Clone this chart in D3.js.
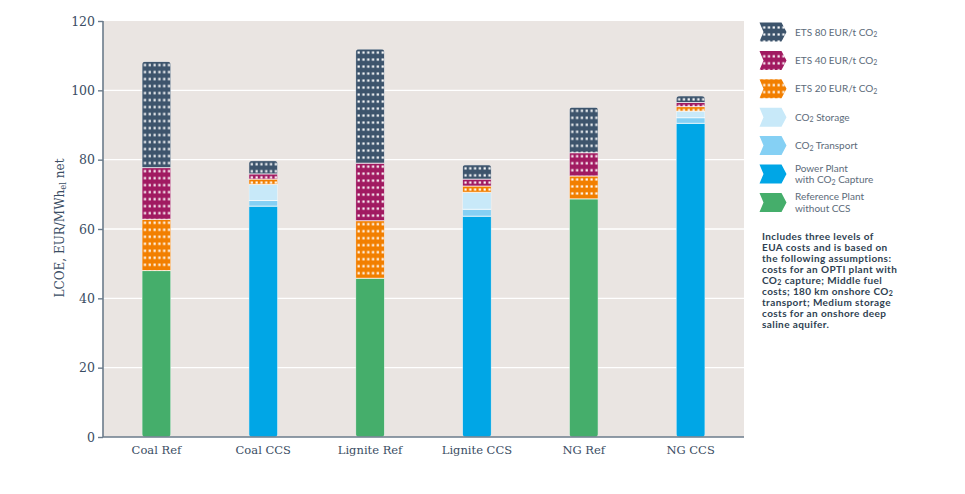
<!DOCTYPE html>
<html>
<head>
<meta charset="utf-8">
<script src="https://cdn.jsdelivr.net/npm/d3@7"></script>
<style>
  body { margin: 0; background: #fff; }
  svg { display: block; }
</style>
</head>
<body>
<div id="chart"></div>
<script>
// LCOE stacked bars (EUR/MWh el net)
const categories = ["Coal Ref", "Coal CCS", "Lignite Ref", "Lignite CCS", "NG Ref", "NG CCS"];
const reference  = [48.0, 0,    45.8, 0,    68.7, 0];
const capture    = [0,    66.6, 0,    63.7, 0,    90.5];
const transport  = [0,    1.6,  0,    2.0,  0,    1.6];
const storage    = [0,    4.7,  0,    4.9,  0,    1.9];
const ets20      = [14.8, 1.5,  16.6, 1.8,  6.6,  1.3];
const ets40      = [14.9, 1.5,  16.6, 2.0,  6.7,  1.2];
const ets80      = [30.6, 3.8,  32.9, 4.1,  13.1, 1.9];
const yTicks     = [0, 20, 40, 60, 80, 100, 120];

// Stack-Reihenfolge unten -> oben
const seriesKeys = ["reference", "capture", "transport", "storage", "ets20", "ets40", "ets80"];
const seriesVals = { reference, capture, transport, storage, ets20, ets40, ets80 };
const colors = {
  reference: "#45ae6b", capture: "#00a6e6", transport: "#85d0f4", storage: "#c8e9f9",
  ets20: "#f27f00", ets40: "#a11a61", ets80: "#3d546c"
};
const dotted = new Set(["ets20", "ets40", "ets80"]);

// Legende oben -> unten
const legendItems = [
  { key: "ets80", lines: [["ETS 80 EUR/t CO", "2"]] },
  { key: "ets40", lines: [["ETS 40 EUR/t CO", "2"]] },
  { key: "ets20", lines: [["ETS 20 EUR/t CO", "2"]] },
  { key: "storage", lines: [["CO", "2", " Storage"]] },
  { key: "transport", lines: [["CO", "2", " Transport"]] },
  { key: "capture", lines: [["Power Plant"], ["with CO", "2", " Capture"]] },
  { key: "reference", lines: [["Reference Plant"], ["without CCS"]] }
];
const noteLines = [
  ["Includes three levels of"],
  ["EUA costs and is based on"],
  ["the following assumptions:"],
  ["costs for an OPTI plant with"],
  ["CO", "2", " capture; Middle fuel"],
  ["costs; 180 km onshore CO", "2"],
  ["transport; Medium storage"],
  ["costs for an onshore deep"],
  ["saline aquifer."]
];

const W = 965, H = 494, M = { top: 21, right: 221, bottom: 57, left: 103 };
const svg = d3.select("#chart").append("svg").attr("width", W).attr("height", H);
const defs = svg.append("defs");

const x = d3.scaleBand().domain(categories).range([M.left, W - M.right]).paddingInner(0.73).paddingOuter(0.365);
const y = d3.scaleLinear().domain([0, 120]).range([H - M.bottom, M.top]);

// Hintergrund Plotfläche
svg.append("rect")
  .attr("x", M.left).attr("y", M.top)
  .attr("width", W - M.right - M.left).attr("height", y(0) - M.top)
  .attr("fill", "#eae5e2");

// Gitterlinien
svg.append("g").selectAll("line").data(yTicks.filter(d => d > 0 && d < 120)).join("line")
  .attr("x1", M.left).attr("x2", W - M.right)
  .attr("y1", d => y(d)).attr("y2", d => y(d))
  .attr("stroke", "#fff").attr("stroke-width", 1.4);

// Punktmuster (weiße Punkte auf Farbe), je Balken ausgerichtet
function dotPattern(id, color, x0, y0) {
  const p = defs.append("pattern").attr("id", id)
    .attr("patternUnits", "userSpaceOnUse")
    .attr("x", x0).attr("y", y0).attr("width", 4.8).attr("height", 7);
  p.append("rect").attr("width", 4.8).attr("height", 7).attr("fill", color);
  p.append("rect").attr("x", 1.5).attr("y", 2.4).attr("width", 2.2).attr("height", 2.2).attr("fill", "#fff");
}

const table = categories.map((c, i) => {
  const row = { cat: c };
  seriesKeys.forEach(k => row[k] = seriesVals[k][i]);
  return row;
});
const stacked = d3.stack().keys(seriesKeys)(table);

// Balken
const gBars = svg.append("g");
categories.forEach((c, i) => {
  const bx = x(c), bw = x.bandwidth();
  const total = d3.sum(seriesKeys, k => seriesVals[k][i]);
  const clipId = "clip-" + i;
  defs.append("clipPath").attr("id", clipId).append("rect")
    .attr("x", bx).attr("y", y(total)).attr("width", bw).attr("height", y(0) - y(total))
    .attr("rx", 4).attr("ry", 4);
  const g = gBars.append("g").attr("clip-path", `url(#${clipId})`);
  stacked.forEach(s => {
    const [v0, v1] = s[i];
    if (v1 - v0 <= 0) return;
    let fill = colors[s.key];
    if (dotted.has(s.key)) {
      const pid = `pat-${i}-${s.key}`;
      dotPattern(pid, colors[s.key], bx + 0.4, y(v1));
      fill = `url(#${pid})`;
    }
    g.append("rect")
      .attr("x", bx).attr("y", y(v1))
      .attr("width", bw).attr("height", y(v0) - y(v1))
      .attr("fill", fill)
      .attr("stroke", "rgba(255,255,255,0.75)").attr("stroke-width", 0.9);
  });
});

// Achsen
const axisColor = "#6b7b8b", textColor = "#3a4d63";
const yAxis = svg.append("g").attr("transform", `translate(${M.left},0)`)
  .call(d3.axisLeft(y).tickValues(yTicks).tickSize(5).tickPadding(3));
yAxis.select(".domain").attr("stroke", axisColor).attr("stroke-width", 1.6)
  .attr("d", `M0,${M.top}V${y(0)}`);
yAxis.selectAll(".tick line").attr("stroke", axisColor).attr("stroke-width", 1.4);
yAxis.selectAll(".tick text").attr("fill", textColor)
  .style("font-family", "'DejaVu Serif', serif").style("font-size", "12.5px");

const xAxis = svg.append("g").attr("transform", `translate(0,${y(0)})`)
  .call(d3.axisBottom(x).tickSize(0).tickPadding(9));
xAxis.select(".domain").attr("stroke", axisColor).attr("stroke-width", 1.6)
  .attr("d", `M${M.left},0H${W - M.right}`);
xAxis.selectAll(".tick text").attr("fill", textColor)
  .style("font-family", "'DejaVu Serif', serif").style("font-size", "11.5px");

// Y-Achsentitel
const yTitle = svg.append("text")
  .attr("transform", `translate(64,228) rotate(-90)`)
  .attr("text-anchor", "middle").attr("fill", textColor)
  .style("font-family", "'DejaVu Serif', serif").style("font-size", "12px");
yTitle.append("tspan").text("LCOE, EUR/MWh");
yTitle.append("tspan").attr("dy", 2).style("font-size", "8.5px").text("el");
yTitle.append("tspan").attr("dy", -2).text(" net");

// Text mit tiefgestellten Teilen: [normal, sub, normal, ...]
function richLine(sel, parts, subSize) {
  parts.forEach((p, j) => {
    const isSub = j % 2 === 1;
    const t = sel.append("tspan").text(p);
    if (isSub) t.attr("dy", 1.5).style("font-size", subSize);
    else if (j > 0) t.attr("dy", -1.5);
  });
}

// Legende
const gLeg = svg.append("g");
const chevron = (w, h) => `M0,0H${w - 5}L${w},${h / 2}L${w - 5},${h}H0L4,${h / 2}Z`;
legendItems.forEach((it, i) => {
  const cy = 32 + i * 28.4;
  let fill = colors[it.key];
  if (dotted.has(it.key)) {
    dotPattern("leg-" + it.key, colors[it.key], 760.5, cy - 9.5);
    fill = `url(#leg-${it.key})`;
  }
  gLeg.append("path").attr("d", chevron(27, 19))
    .attr("transform", `translate(759.5,${cy - 9.5})`)
    .attr("fill", fill);
  const n = it.lines.length;
  it.lines.forEach((parts, li) => {
    const t = gLeg.append("text")
      .attr("x", 795).attr("y", cy + 3.5 + (li - (n - 1) / 2) * 11.5)
      .attr("fill", "#5c6b7a")
      .style("font-family", "Lato, 'Noto Sans', sans-serif").style("font-size", "10px");
    richLine(t, parts, "7px");
  });
});

// Hinweistext
noteLines.forEach((parts, i) => {
  const t = svg.append("text")
    .attr("x", 762).attr("y", 239.5 + i * 11)
    .attr("fill", "#2f3f52")
    .style("font-family", "Lato, 'Noto Sans', sans-serif").style("font-size", "10px")
    .style("font-weight", "700").style("letter-spacing", "0.4px");
  richLine(t, parts, "7px");
});
</script>
</body>
</html>
